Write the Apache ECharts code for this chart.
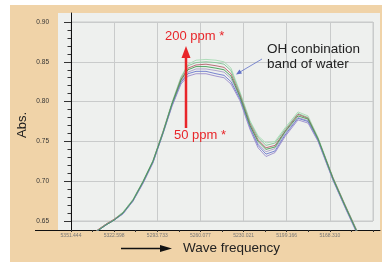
<!DOCTYPE html>
<html>
<head>
<meta charset="utf-8">
<script src="https://cdn.jsdelivr.net/npm/echarts@6/dist/echarts.min.js"></script>
<style>
  html, body { margin: 0; padding: 0; background: #fff; }
  #main {
    width: 382px; height: 262px;
    background: linear-gradient(#F0D3A8, #F0D3A8) no-repeat 10px 5px / 372px 257px, #fff;
  }
</style>
</head>
<body>
<div id="main"></div>
<script>
// tick labels of the wave-frequency axis (evenly spaced on the plot)
var freqLabels = ['5351.444', '5322.598', '5293.733', '5260.077', '5230.021', '5199.166', '5168.310'];

// sample positions, in units of label spacing (0 = first label)
var xPos = [0.44, 0.626, 0.811, 0.997, 1.205, 1.437, 1.669, 1.901, 2.133, 2.341, 2.550, 2.712, 2.898,
            3.129, 3.361, 3.547, 3.709, 3.917, 4.149, 4.335, 4.520, 4.729, 4.961, 5.262, 5.494,
            5.726, 6.073, 6.351, 6.630, 6.815];

// absorbance, from 200 ppm (top) down to 50 ppm (bottom)
var abs1 = [.632, .639, .646, .652, .661, .677, .700, .726, .763, .799, .831, .847, .852, .853, .852, .850, .842,
            .812, .776, .757, .748, .750, .767, .787, .782, .755, .705, .671, .638, .614];
var abs2 = [.632, .639, .646, .652, .661, .677, .700, .726, .762, .798, .830, .845, .849, .850, .849, .847, .839,
            .810, .774, .755, .745, .748, .765, .785, .780, .754, .704, .670, .637, .613];
var abs3 = [.632, .639, .646, .652, .660, .676, .699, .725, .762, .797, .828, .842, .846, .847, .845, .843, .835,
            .808, .772, .752, .742, .745, .763, .784, .779, .753, .704, .670, .637, .613];
var abs4 = [.631, .638, .645, .651, .660, .676, .699, .725, .761, .797, .827, .840, .844, .844, .842, .840, .832,
            .806, .770, .750, .740, .743, .762, .782, .778, .753, .703, .669, .636, .612];
var abs5 = [.631, .638, .645, .651, .660, .676, .698, .724, .761, .796, .825, .837, .841, .841, .839, .837, .829,
            .805, .769, .747, .737, .741, .760, .780, .776, .752, .702, .668, .636, .612];
var abs6 = [.631, .638, .645, .651, .659, .675, .698, .724, .760, .795, .824, .835, .838, .838, .835, .833, .825,
            .803, .767, .745, .734, .738, .758, .779, .775, .751, .702, .668, .635, .611];
var abs7 = [.631, .638, .645, .651, .659, .675, .697, .723, .760, .794, .822, .832, .835, .835, .832, .830, .822,
            .801, .765, .742, .731, .736, .756, .777, .773, .750, .701, .667, .634, .611];

var yTicks = [0.65, 0.70, 0.75, 0.80, 0.85, 0.90];

var chart = echarts.init(document.getElementById('main'));

// outer panel (axes lines) and inner framed grid
var outer = { l: 58, t: 13, r: 380, b: 230 };
var inner = { l: 71, t: 22, r: 373, b: 221 };
var xUnit = (inner.r - inner.l) / (freqLabels.length);
var yUnit = (yTicks[yTicks.length - 1] - yTicks[0]) / (inner.b - inner.t);

function pairs(ys) {
  return ys.map(function (y, i) { return [xPos[i], y]; });
}

var lineColors = ['#a6dab2', '#7fc495', '#b4606c', '#a8a0c8', '#6a78cc', '#9a8ccc', '#3f9c52'];
var seriesData = [abs1, abs2, abs3, abs5, abs6, abs7, abs4];

var series = seriesData.map(function (d, i) {
  return {
    type: 'line',
    xAxisIndex: 0,
    yAxisIndex: 0,
    data: pairs(d),
    showSymbol: false,
    silent: true,
    lineStyle: { width: 1, color: lineColors[i], opacity: 0.9 }
  };
});

var gridColor = '#C9CBCB';
var font = 'Liberation Sans, Arial, sans-serif';

var option = {
  animation: false,
  textStyle: { fontFamily: font },
  grid: [
    { left: outer.l, top: outer.t, width: outer.r - outer.l, height: outer.b - outer.t,
      show: true, backgroundColor: '#EEF0EE', borderWidth: 0 },
    { left: inner.l, top: inner.t, width: inner.r - inner.l, height: inner.b - inner.t,
      show: true, backgroundColor: 'transparent', borderColor: gridColor, borderWidth: 1 }
  ],
  xAxis: [
    { gridIndex: 0, type: 'value',
      min: -(inner.l - outer.l) / xUnit,
      max: freqLabels.length + (outer.r - inner.r) / xUnit,
      axisLine: { show: true, lineStyle: { color: '#111', width: 1 } },
      axisTick: { show: false }, axisLabel: { show: false }, splitLine: { show: false } },
    { gridIndex: 1, type: 'value', min: 0, max: freqLabels.length, interval: 1,
      offset: outer.b - inner.b,
      axisLine: { show: false },
      axisTick: { show: true, length: 2, lineStyle: { color: '#333' } },
      minorTick: { show: true, splitNumber: 2, length: 2, lineStyle: { color: '#333' } },
      axisLabel: { fontSize: 5, color: '#777', margin: 3,
        formatter: function (v) { return freqLabels[v] || ''; } },
      splitLine: { show: true, lineStyle: { color: gridColor, width: 1 } } }
  ],
  yAxis: [
    { gridIndex: 0, type: 'value',
      min: yTicks[0] - (outer.b - inner.b) * yUnit,
      max: yTicks[yTicks.length - 1] + (inner.t - outer.t) * yUnit,
      axisLine: { show: true, lineStyle: { color: '#111', width: 1 } },
      axisTick: { show: false }, axisLabel: { show: false }, splitLine: { show: false } },
    { gridIndex: 1, type: 'value', min: yTicks[0], max: yTicks[yTicks.length - 1], interval: 0.05,
      offset: inner.l - outer.l,
      axisLine: { show: false },
      axisTick: { show: true, length: 7, lineStyle: { color: '#333' } },
      minorTick: { show: true, splitNumber: 5, length: 3.5, lineStyle: { color: '#333' } },
      axisLabel: { fontSize: 6.5, color: '#333', margin: 9,
        formatter: function (v) { return v.toFixed(2); } },
      splitLine: { show: true, lineStyle: { color: gridColor, width: 1 } } }
  ],
  series: series,
  graphic: [
    // x axis line extends left of the y axis
    { type: 'line', z: 100, shape: { x1: 35, y1: 230.5, x2: 58, y2: 230.5 }, style: { stroke: '#111', lineWidth: 1 } },
    // axis titles
    { type: 'text', z: 100, x: 22, y: 125, rotation: Math.PI / 2,
      style: { text: 'Abs.', font: '13px ' + font, fill: '#222', align: 'center', verticalAlign: 'middle' } },
    { type: 'text', z: 100, x: 183, y: 248,
      style: { text: 'Wave frequency', font: '13.5px ' + font, fill: '#222', align: 'left', verticalAlign: 'middle' } },
    { type: 'line', z: 100, shape: { x1: 121, y1: 248.5, x2: 162, y2: 248.5 }, style: { stroke: '#111', lineWidth: 1.5 } },
    { type: 'polygon', z: 100, shape: { points: [[172, 248.5], [160, 245], [160, 252]] }, style: { fill: '#111' } },
    // concentration annotation
    { type: 'text', z: 100, x: 165, y: 36,
      style: { text: '200 ppm *', font: '13px ' + font, fill: '#E8262A', align: 'left', verticalAlign: 'middle' } },
    { type: 'text', z: 100, x: 174, y: 135,
      style: { text: '50 ppm *', font: '13px ' + font, fill: '#E8262A', align: 'left', verticalAlign: 'middle' } },
    { type: 'line', z: 100, shape: { x1: 186, y1: 128, x2: 186, y2: 56 }, style: { stroke: '#E8262A', lineWidth: 2.5 } },
    { type: 'polygon', z: 100, shape: { points: [[186, 46], [181.5, 58], [190.5, 58]] }, style: { fill: '#E8262A' } },
    // water band annotation
    { type: 'text', z: 100, x: 267, y: 49,
      style: { text: 'OH conbination', font: '13.5px ' + font, fill: '#222', align: 'left', verticalAlign: 'middle' } },
    { type: 'text', z: 100, x: 267, y: 64,
      style: { text: 'band of water', font: '13.5px ' + font, fill: '#222', align: 'left', verticalAlign: 'middle' } },
    { type: 'line', z: 100, shape: { x1: 262, y1: 59, x2: 240, y2: 72 }, style: { stroke: '#6070C8', lineWidth: 0.8 } },
    { type: 'polygon', z: 100, shape: { points: [[236, 74.5], [239.5, 69.5], [242, 73.5]] }, style: { fill: '#6070C8' } }
  ]
};

chart.setOption(option);
</script>
</body>
</html>
